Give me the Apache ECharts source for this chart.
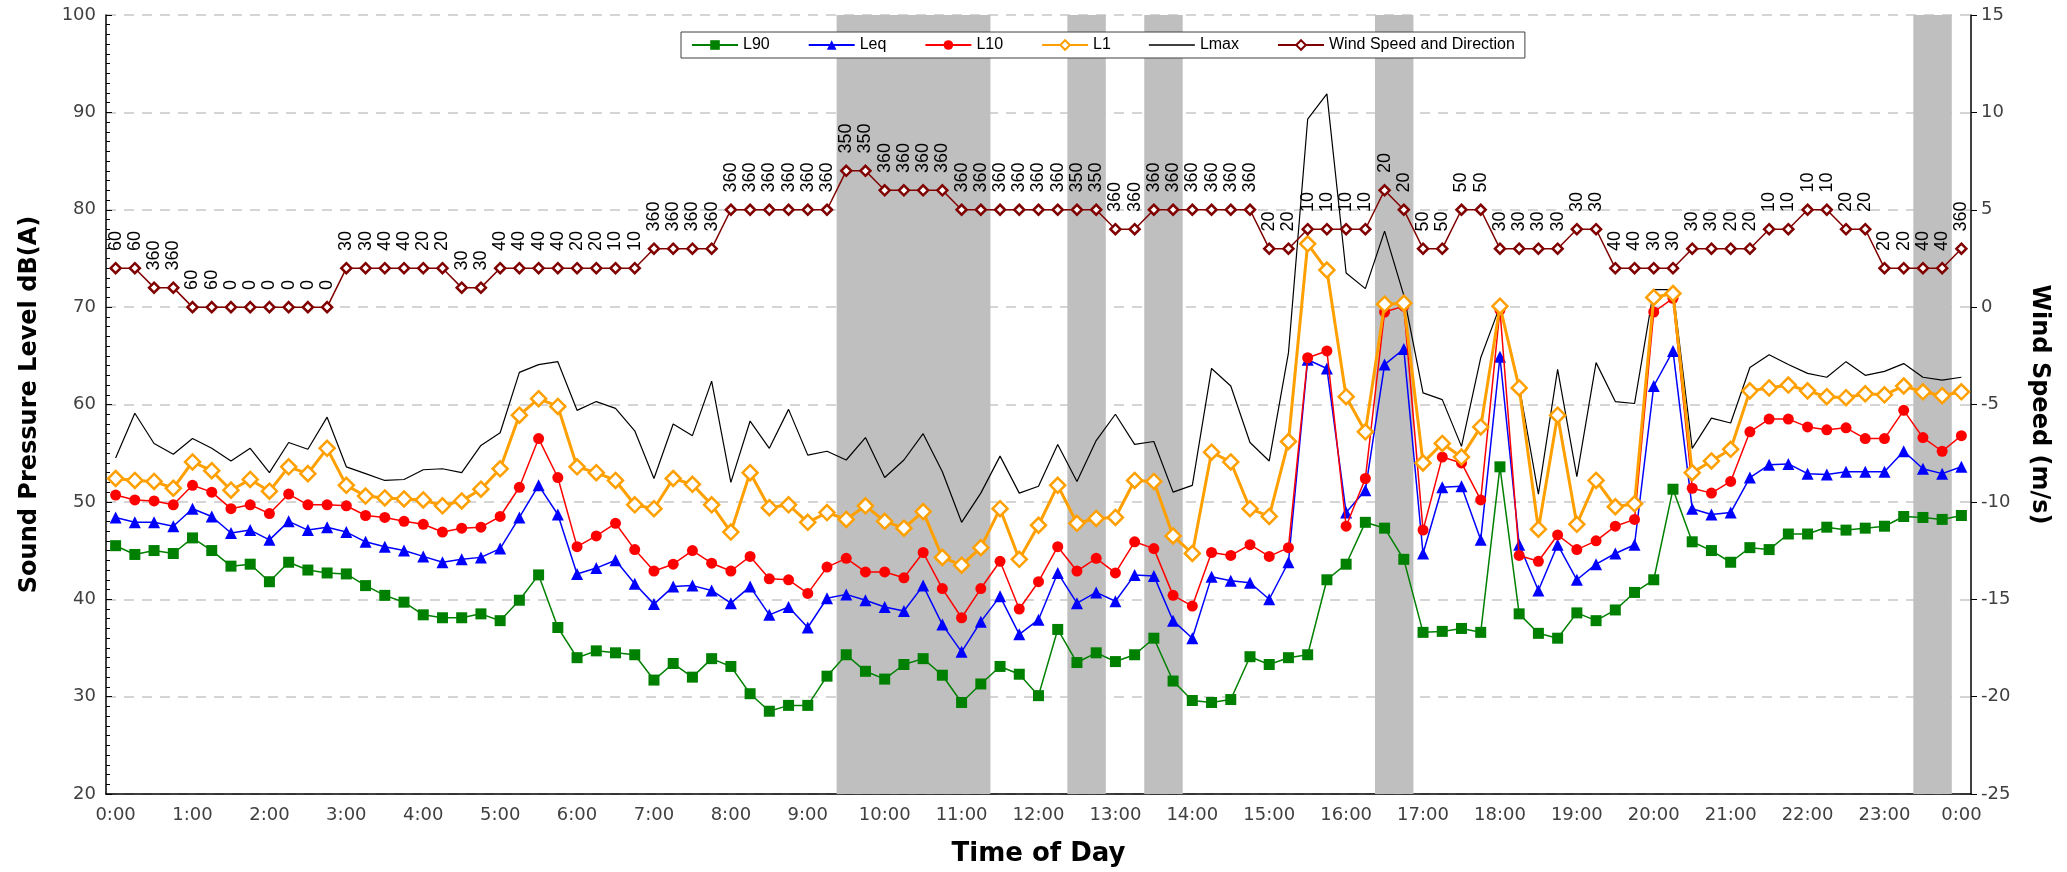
<!DOCTYPE html>
<html>
<head>
<meta charset="utf-8">
<script src="https://cdn.jsdelivr.net/npm/echarts@6/dist/echarts.min.js"></script>
<style>
html, body { margin: 0; padding: 0; background: #fff; }
#chart { width: 2067px; height: 872px; }
</style>
</head>
<body>
<div id="chart"></div>
<script>
var times = [
  '0:00','0:15','0:30','0:45','1:00','1:15','1:30','1:45','2:00','2:15','2:30','2:45',
  '3:00','3:15','3:30','3:45','4:00','4:15','4:30','4:45','5:00','5:15','5:30','5:45',
  '6:00','6:15','6:30','6:45','7:00','7:15','7:30','7:45','8:00','8:15','8:30','8:45',
  '9:00','9:15','9:30','9:45','10:00','10:15','10:30','10:45','11:00','11:15','11:30','11:45',
  '12:00','12:15','12:30','12:45','13:00','13:15','13:30','13:45','14:00','14:15','14:30','14:45',
  '15:00','15:15','15:30','15:45','16:00','16:15','16:30','16:45','17:00','17:15','17:30','17:45',
  '18:00','18:15','18:30','18:45','19:00','19:15','19:30','19:45','20:00','20:15','20:30','20:45',
  '21:00','21:15','21:30','21:45','22:00','22:15','22:30','22:45','23:00','23:15','23:30','23:45',
  '0:00'
];

var l90 = [45.5,44.6,45.0,44.7,46.3,45.0,43.4,43.6,41.8,43.8,43.0,42.7,
  42.6,41.4,40.4,39.7,38.4,38.1,38.1,38.5,37.8,39.9,42.5,37.1,
  34.0,34.7,34.5,34.3,31.7,33.4,32.0,33.9,33.1,30.3,28.5,29.1,
  29.1,32.1,34.3,32.6,31.8,33.3,33.9,32.2,29.4,31.3,33.1,32.3,
  30.1,36.9,33.5,34.5,33.6,34.3,36.0,31.6,29.6,29.4,29.7,34.1,
  33.3,34.0,34.3,42.0,43.6,47.9,47.3,44.1,36.6,36.7,37.0,36.6,
  53.6,38.5,36.5,36.0,38.6,37.8,38.9,40.7,42.0,51.3,45.9,45.0,
  43.8,45.3,45.1,46.7,46.7,47.4,47.1,47.3,47.5,48.5,48.4,48.2,
  48.6];

var leq = [48.4,47.9,47.9,47.5,49.3,48.5,46.8,47.1,46.1,48.0,47.1,47.4,
  46.9,45.9,45.4,45.0,44.4,43.8,44.1,44.3,45.2,48.4,51.7,48.7,
  42.6,43.2,44.0,41.6,39.5,41.3,41.4,40.9,39.6,41.3,38.4,39.2,
  37.1,40.1,40.5,39.9,39.2,38.8,41.4,37.4,34.6,37.7,40.3,36.4,
  37.9,42.7,39.6,40.7,39.8,42.5,42.4,37.8,36.0,42.3,41.9,41.7,
  40.0,43.8,64.6,63.7,48.9,51.2,64.1,65.7,44.7,51.5,51.6,46.1,
  64.9,45.6,40.9,45.6,42.0,43.6,44.7,45.6,61.9,65.5,49.3,48.7,
  48.9,52.5,53.8,53.9,52.9,52.8,53.1,53.1,53.1,55.2,53.4,52.9,
  53.6];

var l10 = [50.7,50.2,50.1,49.7,51.7,51.0,49.3,49.7,48.8,50.8,49.7,49.7,
  49.6,48.6,48.4,48.0,47.7,46.9,47.3,47.4,48.5,51.5,56.5,52.5,
  45.4,46.5,47.8,45.1,42.9,43.6,45.0,43.7,42.9,44.4,42.1,42.0,
  40.6,43.3,44.2,42.8,42.8,42.2,44.8,41.1,38.1,41.1,43.9,39.0,
  41.8,45.4,42.9,44.2,42.7,45.9,45.2,40.4,39.3,44.8,44.5,45.6,
  44.4,45.3,64.8,65.5,47.5,52.4,69.5,70.1,47.1,54.6,54.0,50.2,
  69.7,44.5,43.9,46.6,45.1,46.0,47.5,48.2,69.5,70.9,51.4,50.9,
  52.1,57.2,58.5,58.5,57.7,57.4,57.6,56.5,56.5,59.4,56.6,55.2,
  56.8];

var l1 = [52.4,52.2,52.1,51.4,54.1,53.2,51.2,52.3,51.1,53.6,52.9,55.5,
  51.7,50.6,50.4,50.3,50.2,49.6,50.1,51.3,53.4,58.9,60.6,59.8,
  53.6,53.0,52.2,49.7,49.3,52.4,51.8,49.7,46.9,53.0,49.4,49.7,
  47.9,48.9,48.2,49.6,48.0,47.3,49.0,44.3,43.5,45.3,49.3,44.1,
  47.6,51.7,47.8,48.3,48.4,52.2,52.1,46.5,44.7,55.1,54.1,49.3,
  48.5,56.2,76.5,73.8,60.8,57.2,70.3,70.4,54.0,56.0,54.6,57.7,
  70.1,61.7,47.2,58.9,47.7,52.2,49.5,49.8,71.0,71.4,53.0,54.2,
  55.4,61.4,61.7,62.0,61.4,60.8,60.7,61.1,61.0,61.9,61.3,60.9,
  61.3];

var lmax = [54.5,59.1,56.0,54.9,56.5,55.5,54.2,55.5,53.0,56.1,55.4,58.7,
  53.6,52.9,52.2,52.3,53.3,53.4,53.0,55.8,57.1,63.3,64.1,64.4,
  59.4,60.3,59.6,57.3,52.4,58.0,56.8,62.4,52.0,58.3,55.5,59.5,
  54.8,55.2,54.3,56.6,52.5,54.3,57.0,53.1,47.9,50.9,54.7,50.9,
  51.6,55.9,52.1,56.3,59.0,55.9,56.2,51.0,51.7,63.7,61.9,56.1,
  54.2,65.3,89.3,91.9,73.5,71.9,77.8,71.2,61.2,60.5,55.7,64.8,
  70.1,61.9,50.8,63.6,52.6,64.3,60.3,60.1,71.8,71.8,55.5,58.6,
  58.1,63.8,65.1,64.1,63.2,62.8,64.4,63.0,63.4,64.2,62.8,62.5,
  62.8];

var windSpeed = [2,2,1,1,0,0,0,0,0,0,0,0,
  2,2,2,2,2,2,1,1,2,2,2,2,
  2,2,2,2,3,3,3,3,5,5,5,5,
  5,5,7,7,6,6,6,6,5,5,5,5,
  5,5,5,5,4,4,5,5,5,5,5,5,
  3,3,4,4,4,4,6,5,3,3,5,5,
  3,3,3,3,4,4,2,2,2,2,3,3,
  3,3,4,4,5,5,4,4,2,2,2,2,
  3];

var windDir = ['60','60','360','360','60','60','0','0','0','0','0','0',
  '30','30','40','40','20','20','30','30','40','40','40','40',
  '20','20','10','10','360','360','360','360','360','360','360','360',
  '360','360','350','350','360','360','360','360','360','360','360','360',
  '360','360','350','350','360','360','360','360','360','360','360','360',
  '20','20','10','10','10','10','20','20','50','50','50','50',
  '30','30','30','30','30','30','40','40','30','30','30','30',
  '20','20','10','10','10','10','20','20','20','20','40','40',
  '360'];

// shaded periods, first and last category index (inclusive)
var shaded = [[38, 45], [50, 51], [54, 55], [66, 67], [94, 95]];

var chart = echarts.init(document.getElementById('chart'));

var axisFont = 'DejaVu Sans';
var titleStyle = {fontFamily: axisFont, fontWeight: 'bold', fontSize: 24, color: '#000'};

var option = {
    animation: false,
    backgroundColor: '#fff',
    textStyle: {fontFamily: 'Liberation Sans'},
    grid: {left: 106, right: 96, top: 15, bottom: 75, containLabel: false},
    legend: {
        left: 681,
        top: 32,
        padding: [5, 10, 5, 10],
        itemGap: 38,
        itemWidth: 46,
        itemHeight: 12,
        borderColor: '#404040',
        borderWidth: 1,
        backgroundColor: '#fff',
        textStyle: {fontFamily: 'Liberation Sans', fontSize: 16, color: '#000'},
        data: ['L90', 'Leq', 'L10', 'L1',
            {name: 'Lmax', icon: 'path://M0,0L46,0L46,1.4L0,1.4Z'},
            'Wind Speed and Direction']
    },
    xAxis: [
        {
            type: 'category',
            data: times,
            boundaryGap: true,
            name: 'Time of Day',
            nameLocation: 'middle',
            nameGap: 47,
            nameTextStyle: {fontFamily: axisFont, fontWeight: 'bold', fontSize: 26, color: '#000'},
            axisLine: {onZero: false, lineStyle: {color: '#000', width: 1.5}},
            axisTick: {interval: 0, length: 6, lineStyle: {color: '#000'}},
            axisLabel: {interval: 3, fontFamily: axisFont, fontSize: 18, color: '#404040', margin: 12},
            splitLine: {show: false}
        },
        {
            // helper axis for the shaded periods, in category index units
            type: 'value',
            min: -0.5,
            max: times.length - 0.5,
            show: false
        }
    ],
    yAxis: [
        {
            type: 'value',
            min: 20, max: 100, interval: 10,
            name: 'Sound Pressure Level dB(A)',
            nameLocation: 'middle',
            nameGap: 64,
            nameRotate: 90,
            nameTextStyle: titleStyle,
            axisLine: {show: true, onZero: false, lineStyle: {color: '#000', width: 1.5}},
            axisTick: {show: true, inside: true, length: 6, lineStyle: {color: '#000'}},
            minorTick: {show: true, splitNumber: 10, length: 4, lineStyle: {color: '#000'}},
            axisLabel: {fontFamily: axisFont, fontSize: 18, color: '#404040', margin: 10},
            splitLine: {show: true, lineStyle: {color: '#c8c8c8', type: [10, 8], width: 1.5}}
        },
        {
            type: 'value',
            min: -25, max: 15, interval: 5,
            name: 'Wind Speed (m/s)',
            nameLocation: 'middle',
            nameGap: 56,
            nameRotate: -90,
            nameTextStyle: titleStyle,
            axisLine: {show: true, onZero: false, lineStyle: {color: '#000', width: 1.5}},
            axisTick: {show: true, length: 6, lineStyle: {color: '#000'}},
            axisLabel: {fontFamily: axisFont, fontSize: 18, color: '#404040', margin: 10},
            splitLine: {show: false}
        }
    ],
    series: [
        {
            name: 'shade',
            type: 'line',
            xAxisIndex: 1,
            yAxisIndex: 0,
            data: [[0, 20]],
            symbol: 'none',
            silent: true,
            lineStyle: {opacity: 0},
            z: 1,
            markArea: {
                silent: true,
                itemStyle: {color: '#bfbfbf'},
                data: shaded.map(function (s) {
                    return [{xAxis: s[0] - 0.5}, {xAxis: s[1] + 0.5}];
                })
            }
        },
        {
            name: 'Lmax',
            type: 'line',
            data: lmax,
            symbol: 'none',
            z: 3,
            lineStyle: {color: '#000', width: 1.2},
            itemStyle: {color: '#000'}
        },
        {
            name: 'L90',
            type: 'line',
            data: l90,
            symbol: 'rect',
            symbolSize: 11,
            showAllSymbol: true,
            z: 4,
            lineStyle: {color: '#008000', width: 1.5},
            itemStyle: {color: '#008000'}
        },
        {
            name: 'Leq',
            type: 'line',
            data: leq,
            symbol: 'triangle',
            symbolSize: 12,
            showAllSymbol: true,
            z: 5,
            lineStyle: {color: '#0000ff', width: 1.5},
            itemStyle: {color: '#0000ff'}
        },
        {
            name: 'L10',
            type: 'line',
            data: l10,
            symbol: 'circle',
            symbolSize: 11,
            showAllSymbol: true,
            z: 6,
            lineStyle: {color: '#ff0000', width: 1.5},
            itemStyle: {color: '#ff0000'}
        },
        {
            name: 'L1',
            type: 'line',
            data: l1,
            symbol: 'diamond',
            symbolSize: 15,
            showAllSymbol: true,
            z: 7,
            lineStyle: {color: '#ffa000', width: 3},
            itemStyle: {color: '#fff', borderColor: '#ffa000', borderWidth: 2.5}
        },
        {
            name: 'Wind Speed and Direction',
            type: 'line',
            yAxisIndex: 1,
            data: windSpeed,
            symbol: 'diamond',
            symbolSize: 10,
            showAllSymbol: true,
            z: 8,
            lineStyle: {color: '#800000', width: 1.5},
            itemStyle: {color: '#fff', borderColor: '#800000', borderWidth: 2.5},
            label: {
                show: true,
                position: 'top',
                distance: 11,
                rotate: 90,
                align: 'left',
                verticalAlign: 'middle',
                fontFamily: 'Liberation Sans',
                fontSize: 18,
                color: '#000',
                formatter: function (p) { return windDir[p.dataIndex]; }
            },
            labelLayout: {hideOverlap: false}
        }
    ]
};

chart.setOption(option);
</script>
</body>
</html>
